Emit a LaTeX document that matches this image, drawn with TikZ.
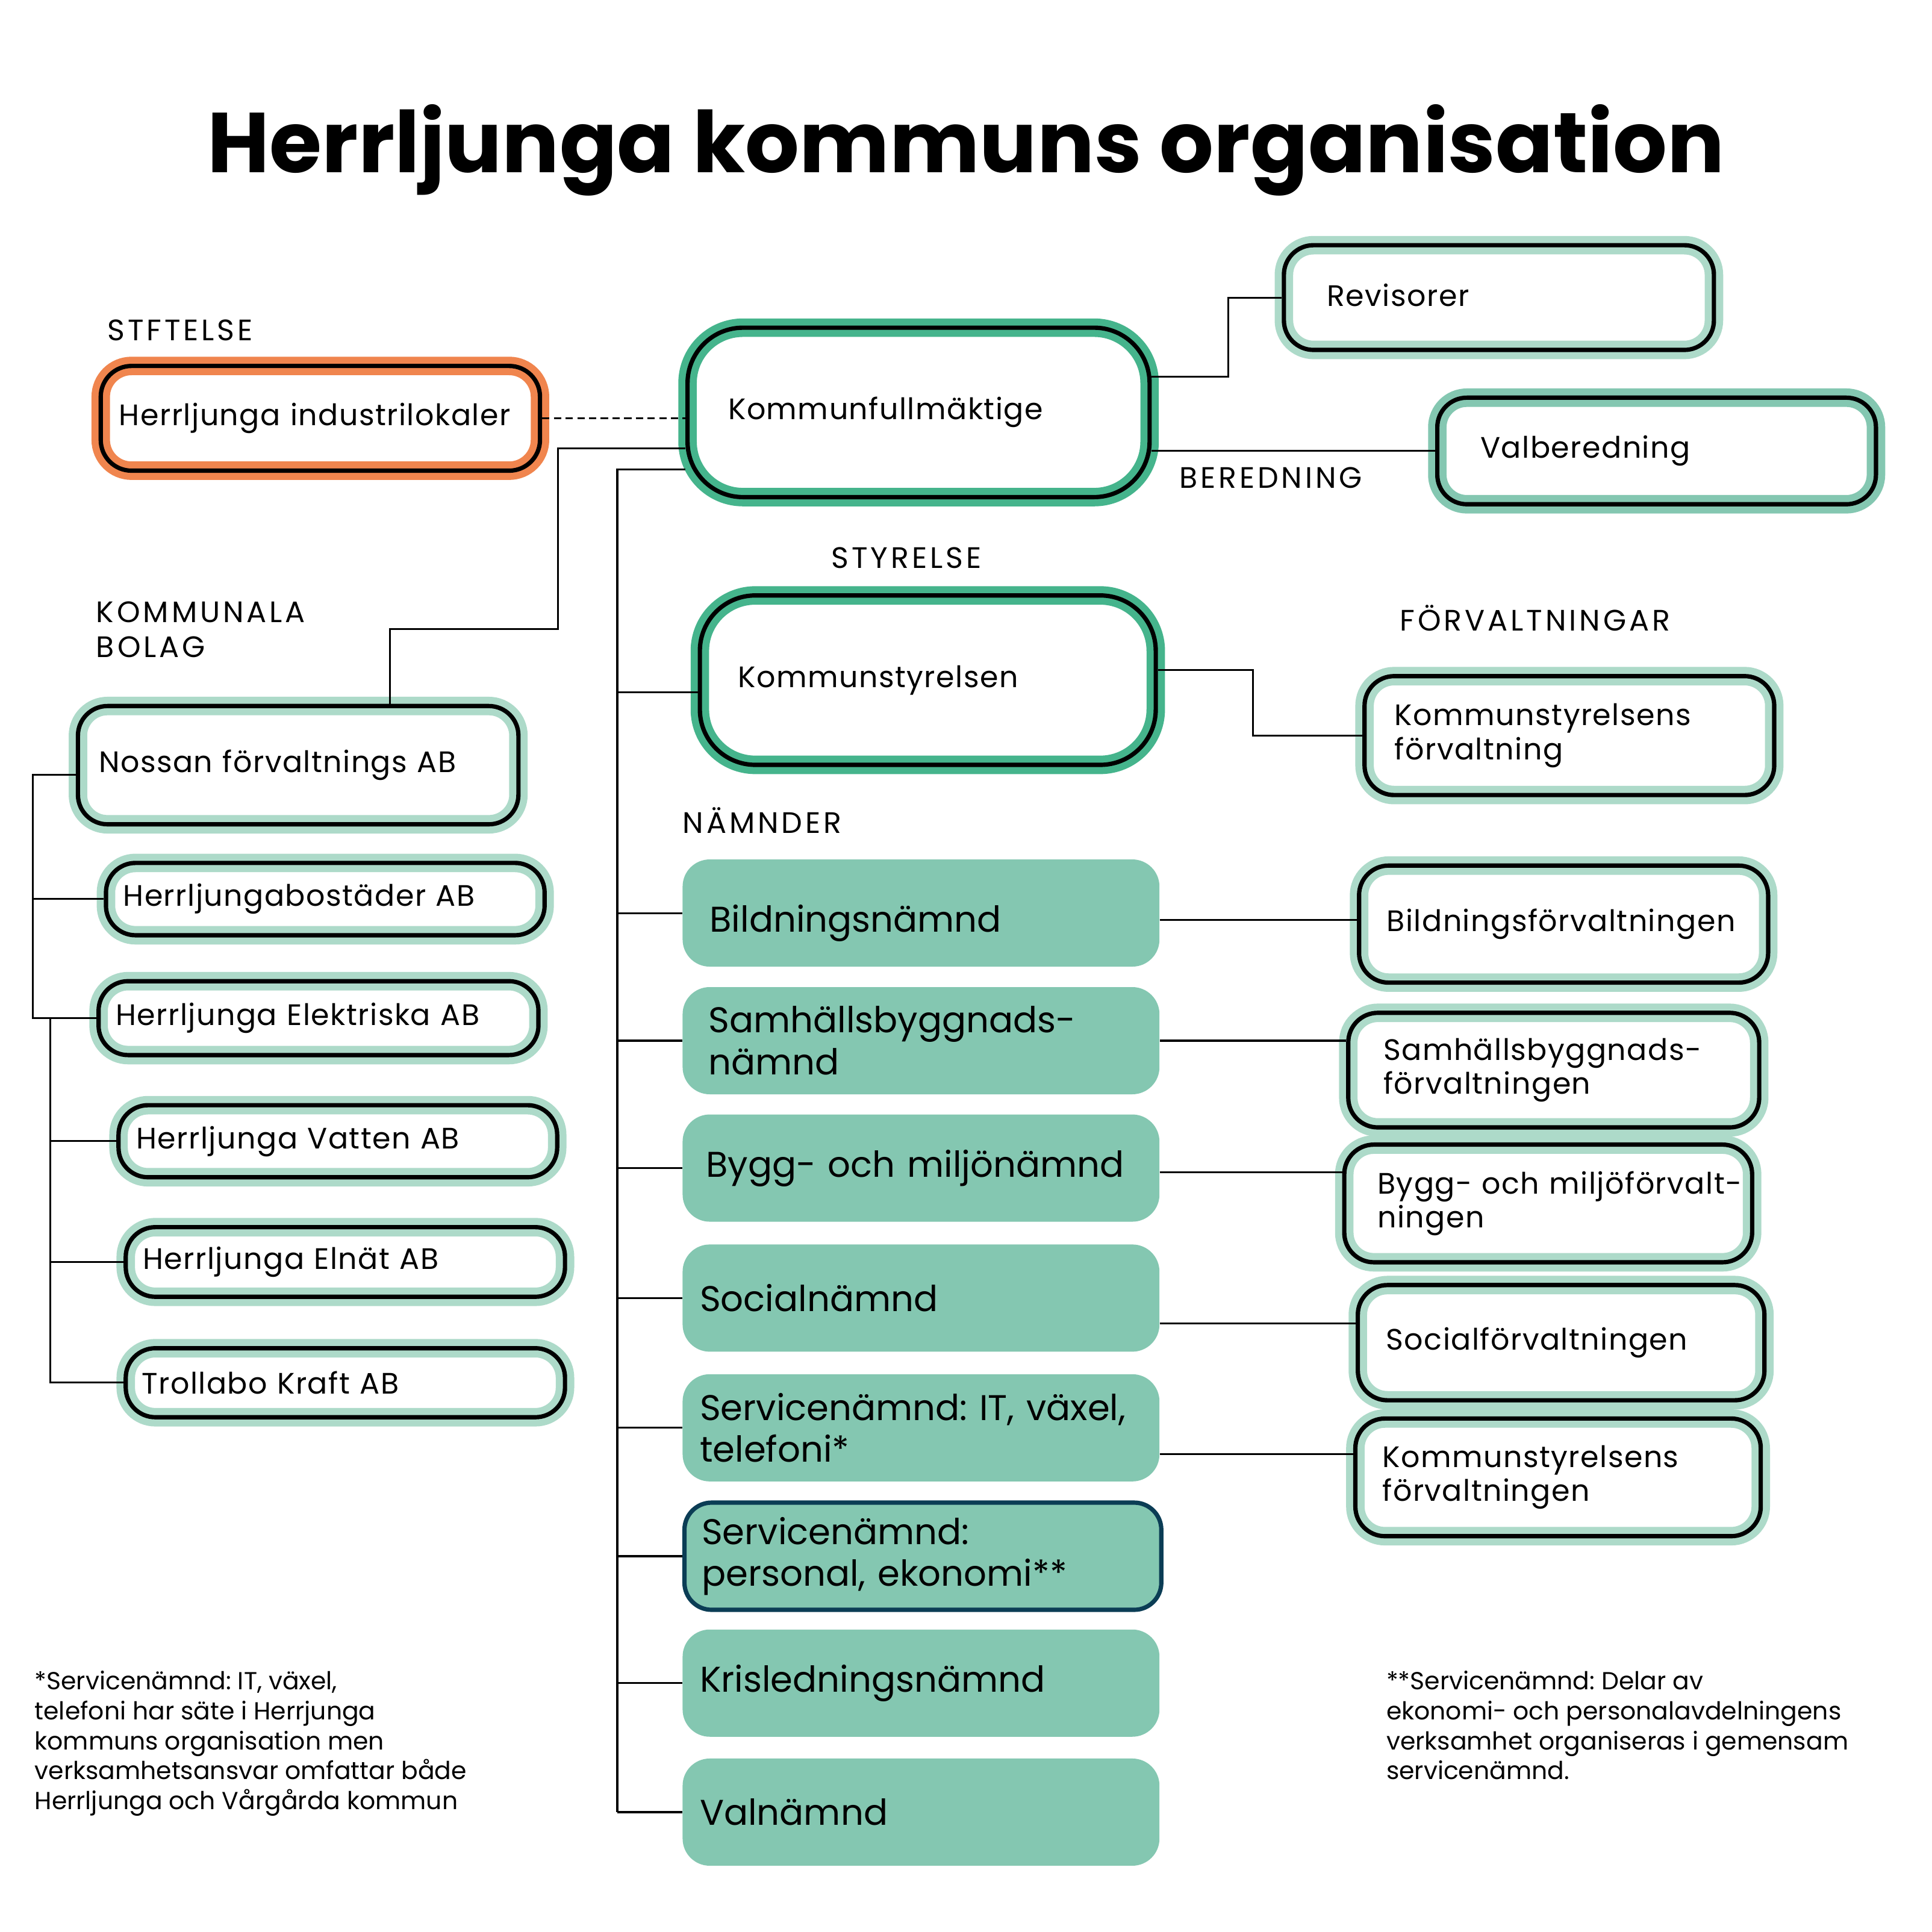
\documentclass[tikz,border=0pt]{standalone}
\usepackage{fontspec}
\setmainfont{Poppins}
\usetikzlibrary{positioning}

\definecolor{OrangeBand}{HTML}{F0854E}
\definecolor{DarkBand}{HTML}{45B48C}
\definecolor{MidBand}{HTML}{84C7B1}
\definecolor{LightBand}{HTML}{ADDAC9}
\definecolor{NavyLine}{HTML}{0B3D55}

\newcommand\TitleFont{\fontsize{69}{80}\selectfont\bfseries}
\newcommand\BoxFont{\fontsize{24}{27.5}\selectfont\addfontfeature{LetterSpace=3}}
\newcommand\NamndFont{\fontsize{29}{34}\selectfont}
\newcommand\LabelFont{\fontsize{24}{28.5}\selectfont\addfontfeature{LetterSpace=10}}
\newcommand\NoteFont{\fontsize{20}{24.3}\selectfont}

\begin{document}
\frenchspacing
\begin{tikzpicture}
	[
	x=1pt, y=-1pt,
	RingBox/.style={draw=black, line width=3.5pt, rounded corners=24pt, preaction={fill=white}, preaction={draw=#1, line width=15pt}, inner ysep=0pt, align=left, font=\BoxFont},	%Ruta med ram
	NamndBox/.style={fill=MidBand, rounded corners=22pt, minimum width=387pt, minimum height=87pt, inner xsep=14pt, inner ysep=0pt, text width=359pt, align=left, font=\NamndFont},	%Nämnd
	Label/.style={font=\LabelFont, anchor=west, inner sep=0pt, align=left},		%Rubriker
	Note/.style={font=\NoteFont, anchor=north west, inner sep=0pt, align=left},	%Fotnoter
	Link/.style={line width=1.5pt, black}											%Linjer
	]

	%% Mått %%
	\def\TrunkX{501};		%x-läge för nämndernas stam
	\def\SpineA{26.5};		%x-läge för bolagens första stam
	\def\SpineB{41};		%x-läge för bolagens andra stam

	\fill[white] (0,0) rectangle (1568,1568);
	\useasboundingbox (0,0) rectangle (1568,1568);

	% Rubrik
	\node[font=\TitleFont, anchor=base, inner sep=0pt] (title) at (784,140) {Herrljunga kommuns organisation};

	% Rubriker för grupperna
	\node[Label] (lstift) at (87,268) {STFTELSE};
	\node[Label] (lbolag) at (78,510.8) {KOMMUNALA\\BOLAG};
	\node[Label] (lbered) at (957,387.6) {BEREDNING};
	\node[Label] (lstyr)  at (674.6,452.6) {STYRELSE};
	\node[Label] (lforv)  at (1136,501.5) {FÖRVALTNINGAR};
	\node[Label] (lnamnd) at (554,665.8) {NÄMNDER};

	%%%%%%%%%%%%%%%%%%%%%%%%%% Ledning %%%%%%%%%%%%%%%%%%%%%%%%%%
	\node[RingBox=OrangeBand, rounded corners=25pt, minimum width=356.5pt, minimum height=85pt, inner xsep=15pt, text width=326.5pt] (indu) at (260,339.5) {Herrljunga industrilokaler};
	\node[RingBox=DarkBand, rounded corners=45pt, minimum width=375pt, minimum height=137.5pt, inner xsep=33pt, text width=309pt] (kf) at (745.5,334.7) {Kommunfullmäktige};
	\node[RingBox=LightBand, minimum width=349pt, minimum height=85pt, inner xsep=35pt, text width=279pt] (rev) at (1216.5,241.5) {\raisebox{4pt}{Revisorer}};
	\node[RingBox=MidBand, minimum width=356pt, minimum height=86.5pt, inner xsep=35pt, text width=286pt] (valb) at (1344.5,366) {Valberedning};
	\node[RingBox=DarkBand, rounded corners=45pt, minimum width=370pt, minimum height=137.5pt, inner xsep=31pt, text width=308pt] (ks) at (753,552) {Kommunstyrelsen};
	\node[RingBox=LightBand, minimum width=332.5pt, minimum height=96.5pt, inner xsep=24.5pt, text width=283.5pt] (ksf) at (1273.7,597) {Kommunstyrelsens\\förvaltning};

	%%%%%%%%%%%%%%%%%%%%%%%%%% Nämnder %%%%%%%%%%%%%%%%%%%%%%%%%%
	\node[NamndBox, inner xsep=22pt, text width=343pt] (bild) at (747.5,741) {\raisebox{-8pt}[21pt][6pt]{Bildningsnämnd}};
	\node[NamndBox, inner xsep=21pt, text width=345pt] (samh) at (747.5,844.6) {Samhällsbyggnads-\\nämnd};
	\node[NamndBox, inner xsep=19pt, text width=349pt] (bygg) at (747.5,948) {Bygg- och miljönämnd};
	\node[NamndBox] (soc)    at (747.5,1053.5) {Socialnämnd};
	\node[NamndBox] (servit) at (747.5,1158.8) {Servicenämnd: IT, växel,\\telefoni*};
	\node[NamndBox, draw=NavyLine, line width=3.5pt] (servpe) at (749,1263) {Servicenämnd:\\personal, ekonomi**};
	\node[NamndBox] (kris)   at (747.5,1366) {Krisledningsnämnd};
	\node[NamndBox] (val)    at (747.5,1470.7) {Valnämnd};

	%%%%%%%%%%%%%%%%%%%%%%%%%% Förvaltningar %%%%%%%%%%%%%%%%%%%%%%%%%%
	\node[RingBox=LightBand, minimum width=332pt, minimum height=95pt, inner xsep=22.5pt, text width=287pt] (bildf) at (1269,750) {\mbox{Bildningsförvaltningen}};
	\node[RingBox=LightBand, minimum width=333.5pt, minimum height=93pt, inner xsep=28.5pt, text width=276.5pt] (samhf) at (1261,868.5) {\mbox{Samhällsbyggnads-}\\förvaltningen};
	\node[RingBox=LightBand, minimum width=331pt, minimum height=95.5pt, inner xsep=27pt, text width=277pt] (byggf) at (1256.5,976.7) {\mbox{Bygg- och miljöförvalt-}\\ningen};
	\node[RingBox=LightBand, minimum width=330pt, minimum height=93.5pt, inner xsep=23pt, text width=284pt] (socf) at (1267,1089.7) {\raisebox{5pt}{Socialförvaltningen}};
	\node[RingBox=LightBand, minimum width=329pt, minimum height=95.5pt, inner xsep=22pt, text width=285pt] (ksf2) at (1264.5,1199) {Kommunstyrelsens\\förvaltningen};

	%%%%%%%%%%%%%%%%%%%%%%%%%% Kommunala bolag %%%%%%%%%%%%%%%%%%%%%%%%%%
	\node[RingBox=LightBand, minimum width=357.5pt, minimum height=96pt, inner xsep=17pt, text width=323.5pt] (nossan) at (242,621) {Nossan förvaltnings AB};
	\node[RingBox=LightBand, minimum width=356pt, minimum height=58.7pt, inner xsep=14pt, text width=328pt] (bost) at (264,729.7) {Herrljungabostäder AB};
	\node[RingBox=LightBand, minimum width=357pt, minimum height=60pt, inner xsep=14pt, text width=329pt] (elek) at (258.5,826.3) {Herrljunga Elektriska AB};
	\node[RingBox=LightBand, minimum width=356pt, minimum height=58.5pt, inner xsep=14.5pt, text width=327pt] (vatten) at (274.2,926.2) {Herrljunga Vatten AB};
	\node[RingBox=LightBand, minimum width=356.5pt, minimum height=56.5pt, inner xsep=14pt, text width=328.5pt] (elnat) at (280.3,1024.2) {Herrljunga Elnät AB};
	\node[RingBox=LightBand, minimum width=356.5pt, minimum height=56pt, inner xsep=13pt, text width=330.5pt] (troll) at (280.3,1122.2) {Trollabo Kraft AB};

	% Fotnoter
	\node[Note] (note1) at (28,1356) {*Servicenämnd: IT, växel,\\telefoni har säte i Herrjunga\\kommuns organisation men\\verksamhetsansvar omfattar både\\Herrljunga och Vårgårda kommun};
	\node[Note] (note2) at (1125,1356) {**Servicenämnd: Delar av\\ekonomi- och personalavdelningens\\verksamhet organiseras i gemensam\\servicenämnd.};

	%%%%%%%%%%%%%%%%%%%%%%%%%% Linjer %%%%%%%%%%%%%%%%%%%%%%%%%%
	\draw[Link, dash pattern=on 6pt off 3.5pt] (indu.east) -- (indu.east -| kf.west);	%Stiftelse
	\draw[Link] ([yshift=29pt]kf.east) -- ++(62,0) |- (rev.west);						%Revisorer
	\draw[Link] (kf.east |- valb.west) -- (valb.west);									%Valberedning
	\coordinate (bolagknee) at (316.5,510.7);
	\draw[Link] ([yshift=-29.3pt]kf.west) -- (453,364) -- (453,510.7) -- (bolagknee) -- (bolagknee |- nossan.north);	%Bolag
	% Stam för styrelse och nämnder
	\coordinate (trunktop) at (\TrunkX,380.8);
	\draw[Link] ([yshift=-46.1pt]kf.west) -- (trunktop) -- (trunktop |- val.west);
	\draw[Link] (\TrunkX,562) -- ([yshift=-10pt]ks.west);
	\foreach \n in {bild,samh,bygg,soc,servit,servpe,kris,val}
		\draw[Link] (trunktop |- \n.west) -- (\n.west);
	\draw[Link] ([yshift=8.4pt]ks.east) -- ++(77,0) |- (ksf.west);						%Förvaltning
	% Nämnd till förvaltning
	\foreach \a/\b/\s in {bild/bildf/-5.8, samh/samhf/0, bygg/byggf/-3.5, soc/socf/-20.5, servit/ksf2/-21.2}
		\draw[Link] ([yshift=\s pt]\a.east) coordinate (tmp) -- (tmp -| \b.west);
	% Bolagens stammar
	\coordinate (spinea) at (\SpineA,0);
	\coordinate (spineb) at (\SpineB,0);
	\draw[Link] ([yshift=-8pt]nossan.west) -| (spinea |- elek.west) -- (elek.west);
	\draw[Link] (spinea |- bost.west) -- (bost.west);
	\draw[Link] (spineb |- elek.west) |- (troll.west);
	\draw[Link] (spineb |- vatten.west) -- (vatten.west);
	\draw[Link] (spineb |- elnat.west) -- (elnat.west);
\end{tikzpicture}
\end{document}
